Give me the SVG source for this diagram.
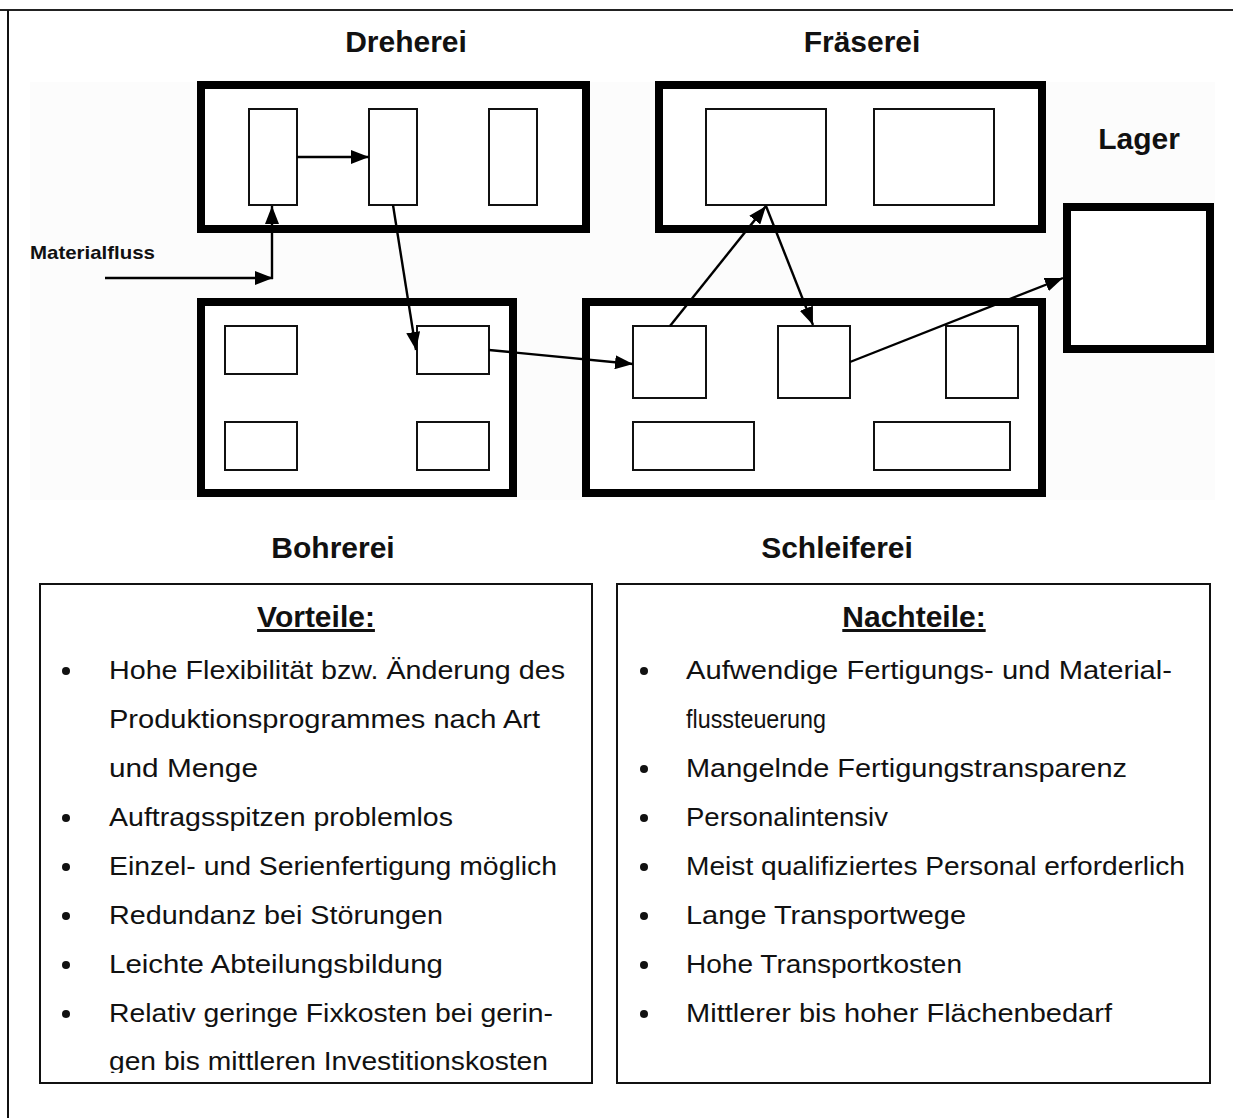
<svg xmlns="http://www.w3.org/2000/svg" width="1233" height="1118" viewBox="0 0 1233 1118">
  <style>
    .title { font-family: "Liberation Sans", Arial, sans-serif; font-weight: bold; font-size: 30px; fill: #111; text-anchor: middle; }
    .hall { fill: #fff; stroke: #000; stroke-width: 8; }
    .machine { fill: #fff; stroke: #111; stroke-width: 2; }
    .flow { stroke: #000; stroke-width: 2.4; fill: none; marker-end: url(#head); }
    .panel { fill: #fff; stroke: #111; stroke-width: 2; }
    .head { font-family: "Liberation Sans", Arial, sans-serif; font-weight: bold; font-size: 30px; fill: #111; text-anchor: middle; text-decoration: underline; }
    .item { font-family: "Liberation Sans", Arial, sans-serif; font-size: 26px; fill: #111; }
    .dot { fill: #111; }
  </style>
  <defs>
    <marker id="head" viewBox="0 0 18 14" refX="18" refY="7" markerWidth="18" markerHeight="14" markerUnits="userSpaceOnUse" orient="auto">
      <path d="M0,0 L18,7 L0,14 Z" fill="#000"/>
    </marker>
    <clipPath id="vorteileClip">
      <rect x="40" y="583" width="552" height="490"/>
    </clipPath>
  </defs>

  <rect width="1233" height="1118" fill="#fff"/>
  <!-- page frame -->
  <line x1="0" y1="10" x2="1233" y2="10" stroke="#222" stroke-width="2"/>
  <line x1="8" y1="10" x2="8" y2="1118" stroke="#111" stroke-width="2"/>
  <!-- layout plan backdrop -->
  <rect x="30" y="82" width="1185" height="418" fill="#fcfcfc"/>

  <!-- department titles -->
  <text class="title" x="406" y="52">Dreherei</text>
  <text class="title" x="862" y="52">Fräserei</text>
  <text class="title" x="1139" y="149">Lager</text>
  <text class="title" x="333" y="558">Bohrerei</text>
  <text class="title" x="837" y="558">Schleiferei</text>
  <text x="30" y="259" font-family="Liberation Sans, Arial, sans-serif" font-weight="bold" font-size="19" fill="#111" textLength="125" lengthAdjust="spacingAndGlyphs">Materialfluss</text>

  <g id="dreherei">
    <rect class="hall" x="201" y="85" width="385" height="144"/>
    <rect class="machine" x="249" y="109" width="48" height="96"/>
    <rect class="machine" x="369" y="109" width="48" height="96"/>
    <rect class="machine" x="489" y="109" width="48" height="96"/>
  </g>

  <g id="fraeserei">
    <rect class="hall" x="659" y="85" width="383" height="144"/>
    <rect class="machine" x="706" y="109" width="120" height="96"/>
    <rect class="machine" x="874" y="109" width="120" height="96"/>
  </g>

  <g id="lager">
    <rect class="hall" x="1067" y="207" width="143" height="142"/>
  </g>

  <g id="bohrerei">
    <rect class="hall" x="201" y="302" width="312" height="191"/>
    <rect class="machine" x="225" y="326" width="72" height="48"/>
    <rect class="machine" x="417" y="326" width="72" height="48"/>
    <rect class="machine" x="225" y="422" width="72" height="48"/>
    <rect class="machine" x="417" y="422" width="72" height="48"/>
  </g>

  <g id="schleiferei">
    <rect class="hall" x="586" y="302" width="456" height="191"/>
    <rect class="machine" x="633" y="326" width="73" height="72"/>
    <rect class="machine" x="778" y="326" width="72" height="72"/>
    <rect class="machine" x="946" y="326" width="72" height="72"/>
    <rect class="machine" x="633" y="422" width="121" height="48"/>
    <rect class="machine" x="874" y="422" width="136" height="48"/>
  </g>

  <g id="connectors">
    <line class="flow" x1="105" y1="278" x2="273" y2="278"/>
    <line class="flow" x1="272" y1="279" x2="272" y2="206"/>
    <line class="flow" x1="297" y1="157" x2="369" y2="157"/>
    <line class="flow" x1="393" y1="205" x2="416" y2="350"/>
    <line class="flow" x1="489" y1="350" x2="633" y2="364"/>
    <line class="flow" x1="670" y1="326" x2="766" y2="206"/>
    <line class="flow" x1="766" y1="206" x2="813" y2="325"/>
    <line class="flow" x1="850" y1="362" x2="1063" y2="278"/>
  </g>

  <g id="vorteile">
    <rect class="panel" x="40" y="584" width="552" height="499"/>
    <text class="head" x="316" y="627">Vorteile:</text>
    <g clip-path="url(#vorteileClip)">
      <circle class="dot" cx="66" cy="671" r="4"/>
      <text class="item" x="109" y="679" textLength="456" lengthAdjust="spacingAndGlyphs">Hohe Flexibilität bzw. Änderung des</text>
      <text class="item" x="109" y="728" textLength="431" lengthAdjust="spacingAndGlyphs">Produktionsprogrammes nach Art</text>
      <text class="item" x="109" y="777" textLength="149" lengthAdjust="spacingAndGlyphs">und Menge</text>
      <circle class="dot" cx="66" cy="818" r="4"/>
      <text class="item" x="109" y="826" textLength="344" lengthAdjust="spacingAndGlyphs">Auftragsspitzen problemlos</text>
      <circle class="dot" cx="66" cy="867" r="4"/>
      <text class="item" x="109" y="875" textLength="448" lengthAdjust="spacingAndGlyphs">Einzel- und Serienfertigung möglich</text>
      <circle class="dot" cx="66" cy="916" r="4"/>
      <text class="item" x="109" y="924" textLength="334" lengthAdjust="spacingAndGlyphs">Redundanz bei Störungen</text>
      <circle class="dot" cx="66" cy="965" r="4"/>
      <text class="item" x="109" y="973" textLength="334" lengthAdjust="spacingAndGlyphs">Leichte Abteilungsbildung</text>
      <circle class="dot" cx="66" cy="1014" r="4"/>
      <text class="item" x="109" y="1022" textLength="444" lengthAdjust="spacingAndGlyphs">Relativ geringe Fixkosten bei gerin-</text>
      <text class="item" x="109" y="1070" textLength="439" lengthAdjust="spacingAndGlyphs">gen bis mittleren Investitionskosten</text>
    </g>
  </g>

  <g id="nachteile">
    <rect class="panel" x="617" y="584" width="593" height="499"/>
    <text class="head" x="914" y="627">Nachteile:</text>
    <circle class="dot" cx="644" cy="671" r="4"/>
    <text class="item" x="686" y="679" textLength="486" lengthAdjust="spacingAndGlyphs">Aufwendige Fertigungs- und Material-</text>
    <text class="item" x="686" y="728" textLength="140" lengthAdjust="spacingAndGlyphs">flussteuerung</text>
    <circle class="dot" cx="644" cy="769" r="4"/>
    <text class="item" x="686" y="777" textLength="441" lengthAdjust="spacingAndGlyphs">Mangelnde Fertigungstransparenz</text>
    <circle class="dot" cx="644" cy="818" r="4"/>
    <text class="item" x="686" y="826" textLength="202" lengthAdjust="spacingAndGlyphs">Personalintensiv</text>
    <circle class="dot" cx="644" cy="867" r="4"/>
    <text class="item" x="686" y="875" textLength="499" lengthAdjust="spacingAndGlyphs">Meist qualifiziertes Personal erforderlich</text>
    <circle class="dot" cx="644" cy="916" r="4"/>
    <text class="item" x="686" y="924" textLength="280" lengthAdjust="spacingAndGlyphs">Lange Transportwege</text>
    <circle class="dot" cx="644" cy="965" r="4"/>
    <text class="item" x="686" y="973" textLength="276" lengthAdjust="spacingAndGlyphs">Hohe Transportkosten</text>
    <circle class="dot" cx="644" cy="1014" r="4"/>
    <text class="item" x="686" y="1022" textLength="426" lengthAdjust="spacingAndGlyphs">Mittlerer bis hoher Flächenbedarf</text>
  </g>
</svg>
